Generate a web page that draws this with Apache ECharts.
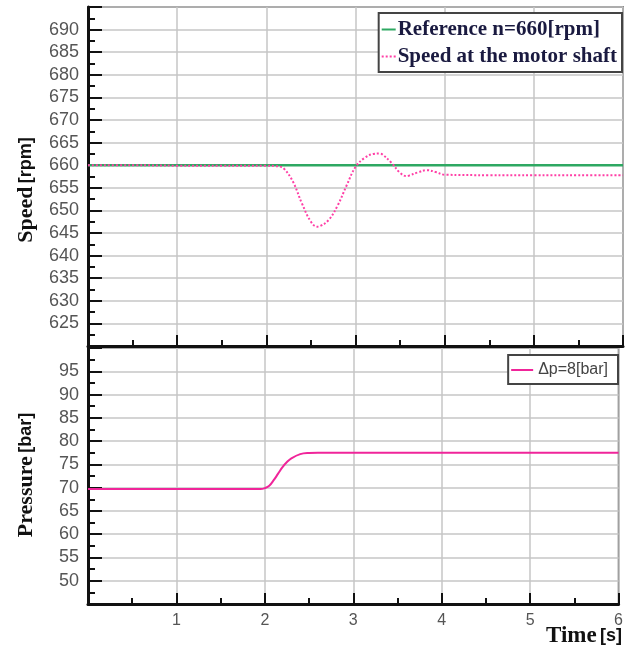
<!DOCTYPE html>
<html>
<head>
<meta charset="utf-8">
<script src="https://cdn.jsdelivr.net/npm/echarts@6/dist/echarts.min.js"></script>
<style>
  html, body { margin: 0; padding: 0; background: #fff; }
  #main { width: 626px; height: 652px; }
</style>
</head>
<body>
<div id="main"></div>
<script>
// time samples [s]
var speedTime = [0, 0.5, 1, 1.5, 2, 2.1, 2.15, 2.2, 2.3, 2.4, 2.5, 2.57, 2.6, 2.7, 2.8, 2.9, 3.0,
  3.1, 3.2, 3.27, 3.3, 3.4, 3.5, 3.57, 3.6, 3.7, 3.8, 3.9, 4.0, 4.5, 5, 5.5, 6];
// speed at the motor shaft [rpm]
var speedValues = [660, 660, 659.9, 659.9, 659.9, 659.8, 659.7, 659.2, 656.3, 651.5, 647.5, 646.4, 646.5, 647.9, 651.1, 655.5, 659.6,
  661.6, 662.5, 662.6, 662.4, 660.6, 658.3, 657.6, 657.7, 658.4, 658.9, 658.5, 657.9, 657.8, 657.8, 657.8, 657.8];
// reference speed [rpm]
var refTime = [0, 6];
var refValues = [660, 660];

// pressure
var pressureTime = [0, 1, 1.95, 2.0, 2.05, 2.1, 2.15, 2.2, 2.25, 2.3, 2.4, 2.5, 2.6, 3, 4, 5, 6];
var pressureValues = [69.7, 69.7, 69.7, 69.9, 70.4, 71.6, 73.0, 74.4, 75.5, 76.3, 77.2, 77.45, 77.5, 77.5, 77.5, 77.5, 77.5];

function pairs(t, v) {
  return t.map(function (x, i) { return [x, v[i]]; });
}

var axisDark = "#111";
var gridGray = "#c6c6c6";

function xAxisCfg(gridIndex, showLabel) {
  return {
    type: "value",
    gridIndex: gridIndex,
    min: 0,
    max: 6,
    interval: 1,
    axisLine: { show: true, lineStyle: { color: axisDark, width: 3 } },
    axisTick: { show: true, inside: true, length: 11, lineStyle: { color: axisDark, width: 2 } },
    minorTick: { show: true, splitNumber: 2, length: 6, lineStyle: { color: axisDark, width: 2 } },
    axisLabel: {
      show: showLabel,
      showMinLabel: false,
      color: "#555",
      fontSize: 16,
      fontFamily: "Liberation Sans",
      margin: 9,
    },
    splitLine: { show: true, lineStyle: { color: gridGray, width: 1.5 } },
  };
}

function yAxisCfg(gridIndex, min, max) {
  return {
    type: "value",
    gridIndex: gridIndex,
    min: min,
    max: max,
    interval: 5,
    axisLine: { show: true, lineStyle: { color: axisDark, width: 3 } },
    axisTick: { show: true, inside: true, length: 14, lineStyle: { color: axisDark, width: 2 } },
    minorTick: { show: true, splitNumber: 2, length: 7, lineStyle: { color: axisDark, width: 2 } },
    axisLabel: {
      showMinLabel: false,
      showMaxLabel: false,
      color: "#555",
      fontSize: 18,
      fontFamily: "Liberation Sans",
      margin: 9,
    },
    splitLine: { show: true, lineStyle: { color: gridGray, width: 1.5 } },
  };
}

var myChart = echarts.init(document.getElementById("main"), null, { renderer: "canvas" });
myChart.setOption({
  animation: false,
  backgroundColor: "#fff",
  grid: [
    { left: 88, right: 3, top: 7, height: 339, show: true, borderColor: "#333", borderWidth: 1.5 },
    { left: 88, right: 3, top: 348, height: 256, show: true, borderColor: "#333", borderWidth: 1.5 },
  ],
  xAxis: [xAxisCfg(0, false), xAxisCfg(1, true)],
  yAxis: [yAxisCfg(0, 620, 695), yAxisCfg(1, 45, 100)],
  legend: [
    {
      data: ["Reference n=660[rpm]", "Speed at the motor shaft"],
      orient: "vertical",
      right: 4,
      top: 13,
      itemWidth: 14,
      itemHeight: 10,
      itemGap: 6,
      padding: [6, 5, 5, 2],
      borderColor: "#444",
      borderWidth: 2,
      backgroundColor: "#fff",
      itemStyle: { opacity: 0 },
      textStyle: {
        fontFamily: "Liberation Serif",
        fontWeight: "bold",
        fontSize: 21,
        color: "#1a1a40",
        padding: [0, 0, 0, -3],
      },
    },
    {
      data: ["Δp=8[bar]"],
      right: 8,
      top: 355,
      itemWidth: 22,
      itemHeight: 10,
      padding: [7, 10, 6, 2],
      borderColor: "#444",
      borderWidth: 2,
      backgroundColor: "#fff",
      itemStyle: { opacity: 0 },
      textStyle: {
        fontFamily: "Liberation Sans",
        fontSize: 16,
        color: "#444",
      },
    },
  ],
  series: [
    {
      name: "Reference n=660[rpm]",
      type: "line",
      xAxisIndex: 0,
      yAxisIndex: 0,
      symbol: "none",
      lineStyle: { color: "#2ea862", width: 2.5 },
      itemStyle: { color: "#2ea862" },
      data: pairs(refTime, refValues),
      z: 3,
    },
    {
      name: "Speed at the motor shaft",
      type: "line",
      xAxisIndex: 0,
      yAxisIndex: 0,
      symbol: "none",
      smooth: 0.4,
      lineStyle: { color: "#ff3fa6", width: 2, type: [2, 2] },
      itemStyle: { color: "#ff3fa6" },
      data: pairs(speedTime, speedValues),
      z: 4,
    },
    {
      name: "Δp=8[bar]",
      type: "line",
      xAxisIndex: 1,
      yAxisIndex: 1,
      symbol: "none",
      smooth: 0.4,
      lineStyle: { color: "#f0259a", width: 2 },
      itemStyle: { color: "#f0259a" },
      data: pairs(pressureTime, pressureValues),
    },
  ],
  graphic: [
    {
      type: "text",
      x: 26,
      y: 190,
      rotation: Math.PI / 2,
      style: {
        text: "{a|Speed} {b|[rpm]}",
        align: "center",
        verticalAlign: "middle",
        rich: {
          a: { fontFamily: "Liberation Serif", fontWeight: "bold", fontSize: 22, fill: "#111" },
          b: { fontFamily: "Liberation Sans", fontWeight: "bold", fontSize: 18, fill: "#111" },
        },
      },
    },
    {
      type: "text",
      x: 26,
      y: 475,
      rotation: Math.PI / 2,
      style: {
        text: "{a|Pressure} {b|[bar]}",
        align: "center",
        verticalAlign: "middle",
        rich: {
          a: { fontFamily: "Liberation Serif", fontWeight: "bold", fontSize: 22, fill: "#111" },
          b: { fontFamily: "Liberation Sans", fontWeight: "bold", fontSize: 18, fill: "#111" },
        },
      },
    },
    {
      type: "text",
      x: 622,
      y: 636,
      style: {
        text: "{a|Time} {b|[s]}",
        align: "right",
        verticalAlign: "middle",
        rich: {
          a: { fontFamily: "Liberation Serif", fontWeight: "bold", fontSize: 23, fill: "#111" },
          b: { fontFamily: "Liberation Sans", fontWeight: "bold", fontSize: 18, fill: "#111" },
        },
      },
    },
  ],
});
window.addEventListener("resize", function () {
  myChart.resize();
});
</script>
</body>
</html>
